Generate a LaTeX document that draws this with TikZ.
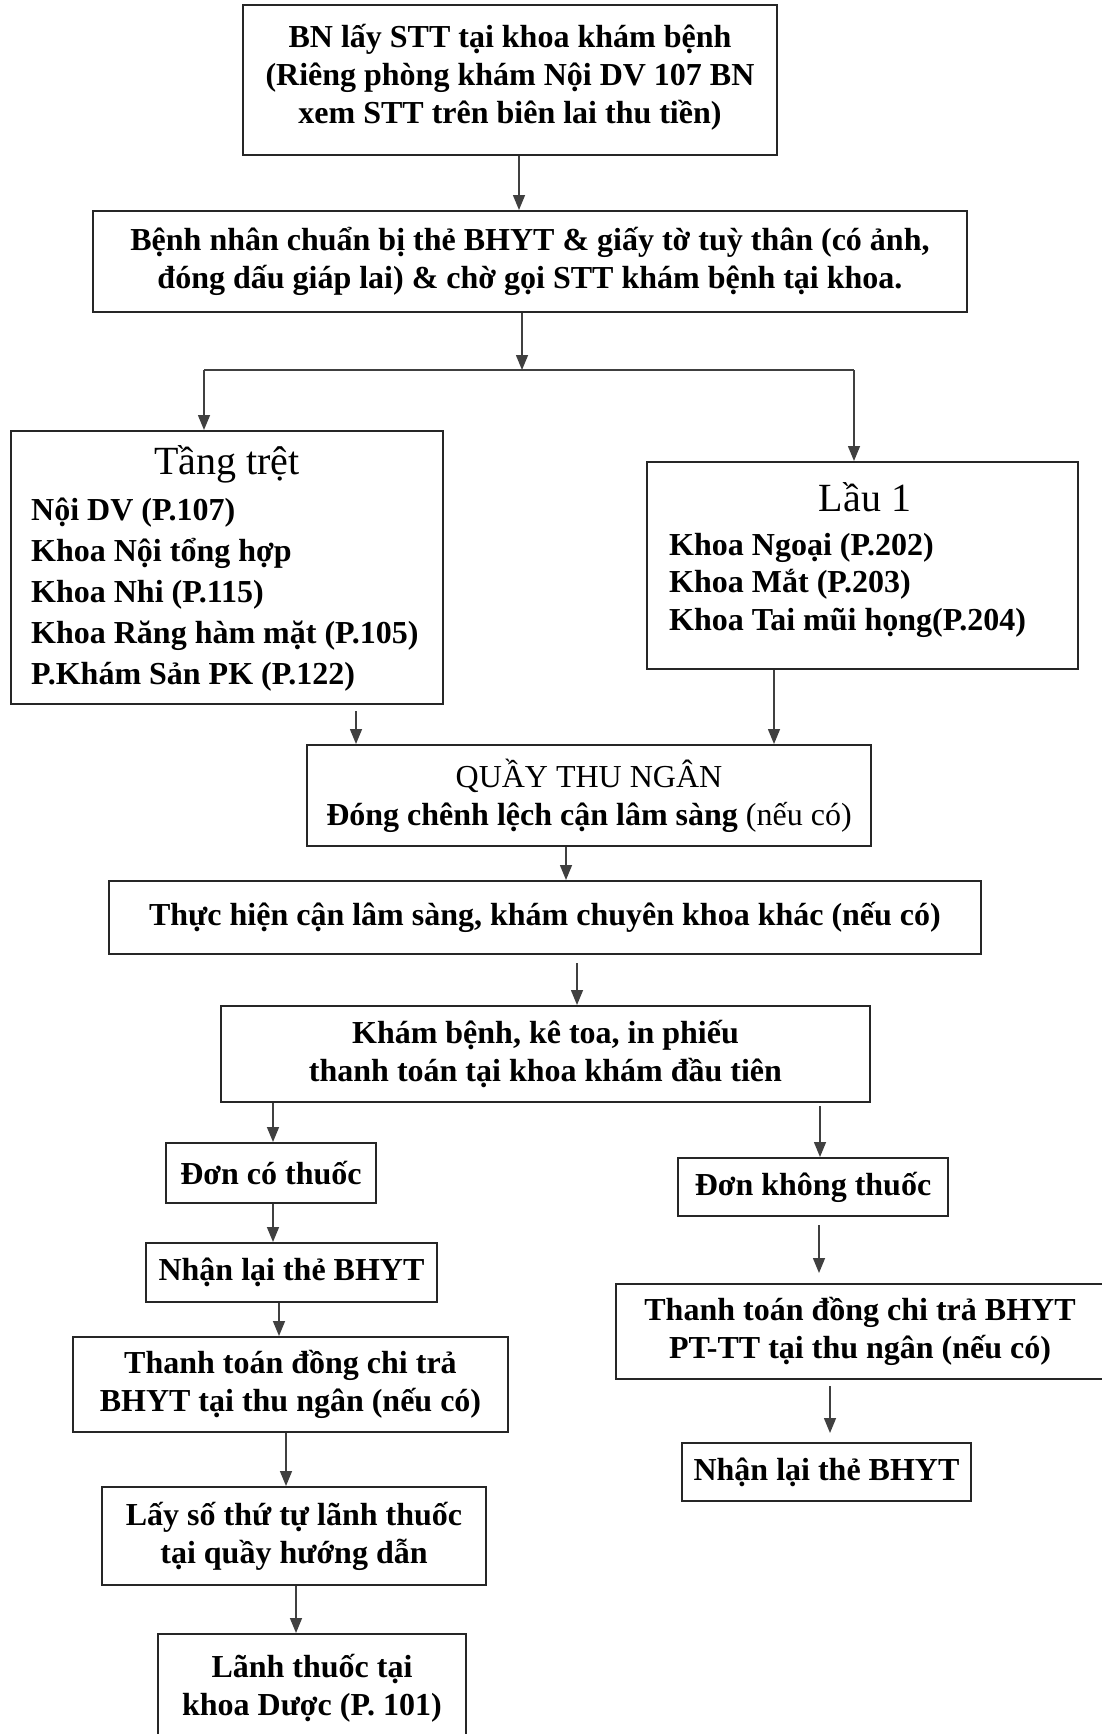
\documentclass[tikz,border=0pt]{standalone}
\usepackage{fontspec}
\setmainfont{Liberation Serif}
\usetikzlibrary{arrows.meta}

\tikzset{
        box/.style={draw=black!85, line width=2pt, inner sep=0pt, align=center,
                font=\bfseries\fontsize{32}{38}\selectfont},
        arr/.style={draw=black!75, line width=1.5pt, -{Triangle[width=12pt,length=15pt]}},
        floortitle/.style={inner sep=0pt, font=\fontsize{40}{44}\selectfont},
        roomlist/.style={inner sep=0pt, anchor=west, align=left}
}

\begin{document}
\begin{tikzpicture}[x=1pt, y=-1pt]
        \useasboundingbox (0,0) rectangle (1102,1734);

        \node[box, minimum width=534, minimum height=150] (stt) at (510,80)
                {BN lấy STT tại khoa khám bệnh\\(Riêng phòng khám Nội DV 107 BN\\xem STT trên biên lai thu tiền)\\[-26pt]};
        \node[box, minimum width=874, minimum height=101] (chuanbi) at (530,261.5)
                {Bệnh nhân chuẩn bị thẻ BHYT \& giấy tờ tuỳ thân (có ảnh,\\đóng dấu giáp lai) \& chờ gọi STT khám bệnh tại khoa.};

        % hai tang
        \node[box, minimum width=432, minimum height=273] (tang) at (227,567.5) {};
        \node[floortitle] (tangtitle) at (227,464) {Tầng trệt};
        \node[roomlist, font=\bfseries\fontsize{32}{41}\selectfont] (tanglist) at (31,595)
                {Nội DV (P.107)\\Khoa Nội tổng hợp\\Khoa Nhi (P.115)\\Khoa Răng hàm mặt (P.105)\\P.Khám Sản PK (P.122)};

        \node[box, minimum width=431, minimum height=207] (lau) at (862.5,565.5) {};
        \node[floortitle] (lautitle) at (865,497) {Lầu 1};
        \node[roomlist, font=\bfseries\fontsize{32}{37.5}\selectfont] (laulist) at (669,585)
                {Khoa Ngoại (P.202)\\Khoa Mắt (P.203)\\Khoa Tai mũi họng(P.204)};

        \node[box, minimum width=564, minimum height=101] (quay) at (589,795.5)
                {{\mdseries QUẦY THU NGÂN}\\Đóng chênh lệch cận lâm sàng {\mdseries(nếu có)}};
        \node[box, minimum width=872, minimum height=73] (canls) at (545,917.5)
                {Thực hiện cận lâm sàng, khám chuyên khoa khác (nếu có)};
        \node[box, minimum width=649, minimum height=96] (kham) at (545.5,1054)
                {Khám bệnh, kê toa, in phiếu\\thanh toán tại khoa khám đầu tiên};

        % don co thuoc
        \node[box, minimum width=210, minimum height=60] (donco) at (271,1173) {Đơn có thuốc};
        \node[box, minimum width=291, minimum height=59] (nhanL) at (291.5,1272.5) {Nhận lại thẻ BHYT};
        \node[box, minimum width=435, minimum height=95] (thanhtoanL) at (290.5,1384.5)
                {Thanh toán đồng chi trả\\BHYT tại thu ngân (nếu có)};
        \node[box, minimum width=384, minimum height=98] (layso) at (294,1536)
                {Lấy số thứ tự lãnh thuốc\\tại quầy hướng dẫn};
        \node[box, minimum width=308, minimum height=108] (lanh) at (312,1688)
                {Lãnh thuốc tại\\khoa Dược (P. 101)};

        % don khong thuoc
        \node[box, minimum width=270, minimum height=58] (donkhong) at (813,1187) {Đơn không thuốc};
        \node[box, minimum width=488, minimum height=95] (thanhtoanR) at (860,1331.5)
                {Thanh toán đồng chi trả BHYT\\PT-TT tại thu ngân (nếu có)};
        \node[box, minimum width=289, minimum height=58] (nhanR) at (826.5,1472) {Nhận lại thẻ BHYT};

        \coordinate (splitL) at (204,370);
        \coordinate (splitR) at (854,370);

        \draw[arr] (519,0 |- stt.south) -- (519,0 |- chuanbi.north);
        \draw[arr] (522,0 |- chuanbi.south) -- (522,0 |- splitL);
        \draw[draw=black!75, line width=1.5pt] (splitL) -- (splitR);
        \draw[arr] (splitL) -- (splitL |- tang.north);
        \draw[arr] (splitR) -- (splitR |- lau.north);

        \draw[arr, shorten <=6pt] (356,0 |- tang.south) -- (356,0 |- quay.north);
        \draw[arr] (774,0 |- lau.south) -- (774,0 |- quay.north);
        \draw[arr] (566,0 |- quay.south) -- (566,0 |- canls.north);
        \draw[arr, shorten <=8pt] (577,0 |- canls.south) -- (577,0 |- kham.north);

        \draw[arr] (273,0 |- kham.south) -- (273,0 |- donco.north);
        \draw[arr] (273,0 |- donco.south) -- (273,0 |- nhanL.north);
        \draw[arr] (279,0 |- nhanL.south) -- (279,0 |- thanhtoanL.north);
        \draw[arr] (286,0 |- thanhtoanL.south) -- (286,0 |- layso.north);
        \draw[arr] (296,0 |- layso.south) -- (296,0 |- lanh.north);

        \draw[arr, shorten <=3pt] (820,0 |- kham.south) -- (820,0 |- donkhong.north);
        \draw[arr, shorten <=8pt, shorten >=10pt] (819,0 |- donkhong.south) -- (819,0 |- thanhtoanR.north);
        \draw[arr, shorten <=6pt, shorten >=9pt] (830,0 |- thanhtoanR.south) -- (830,0 |- nhanR.north);
\end{tikzpicture}
\end{document}
